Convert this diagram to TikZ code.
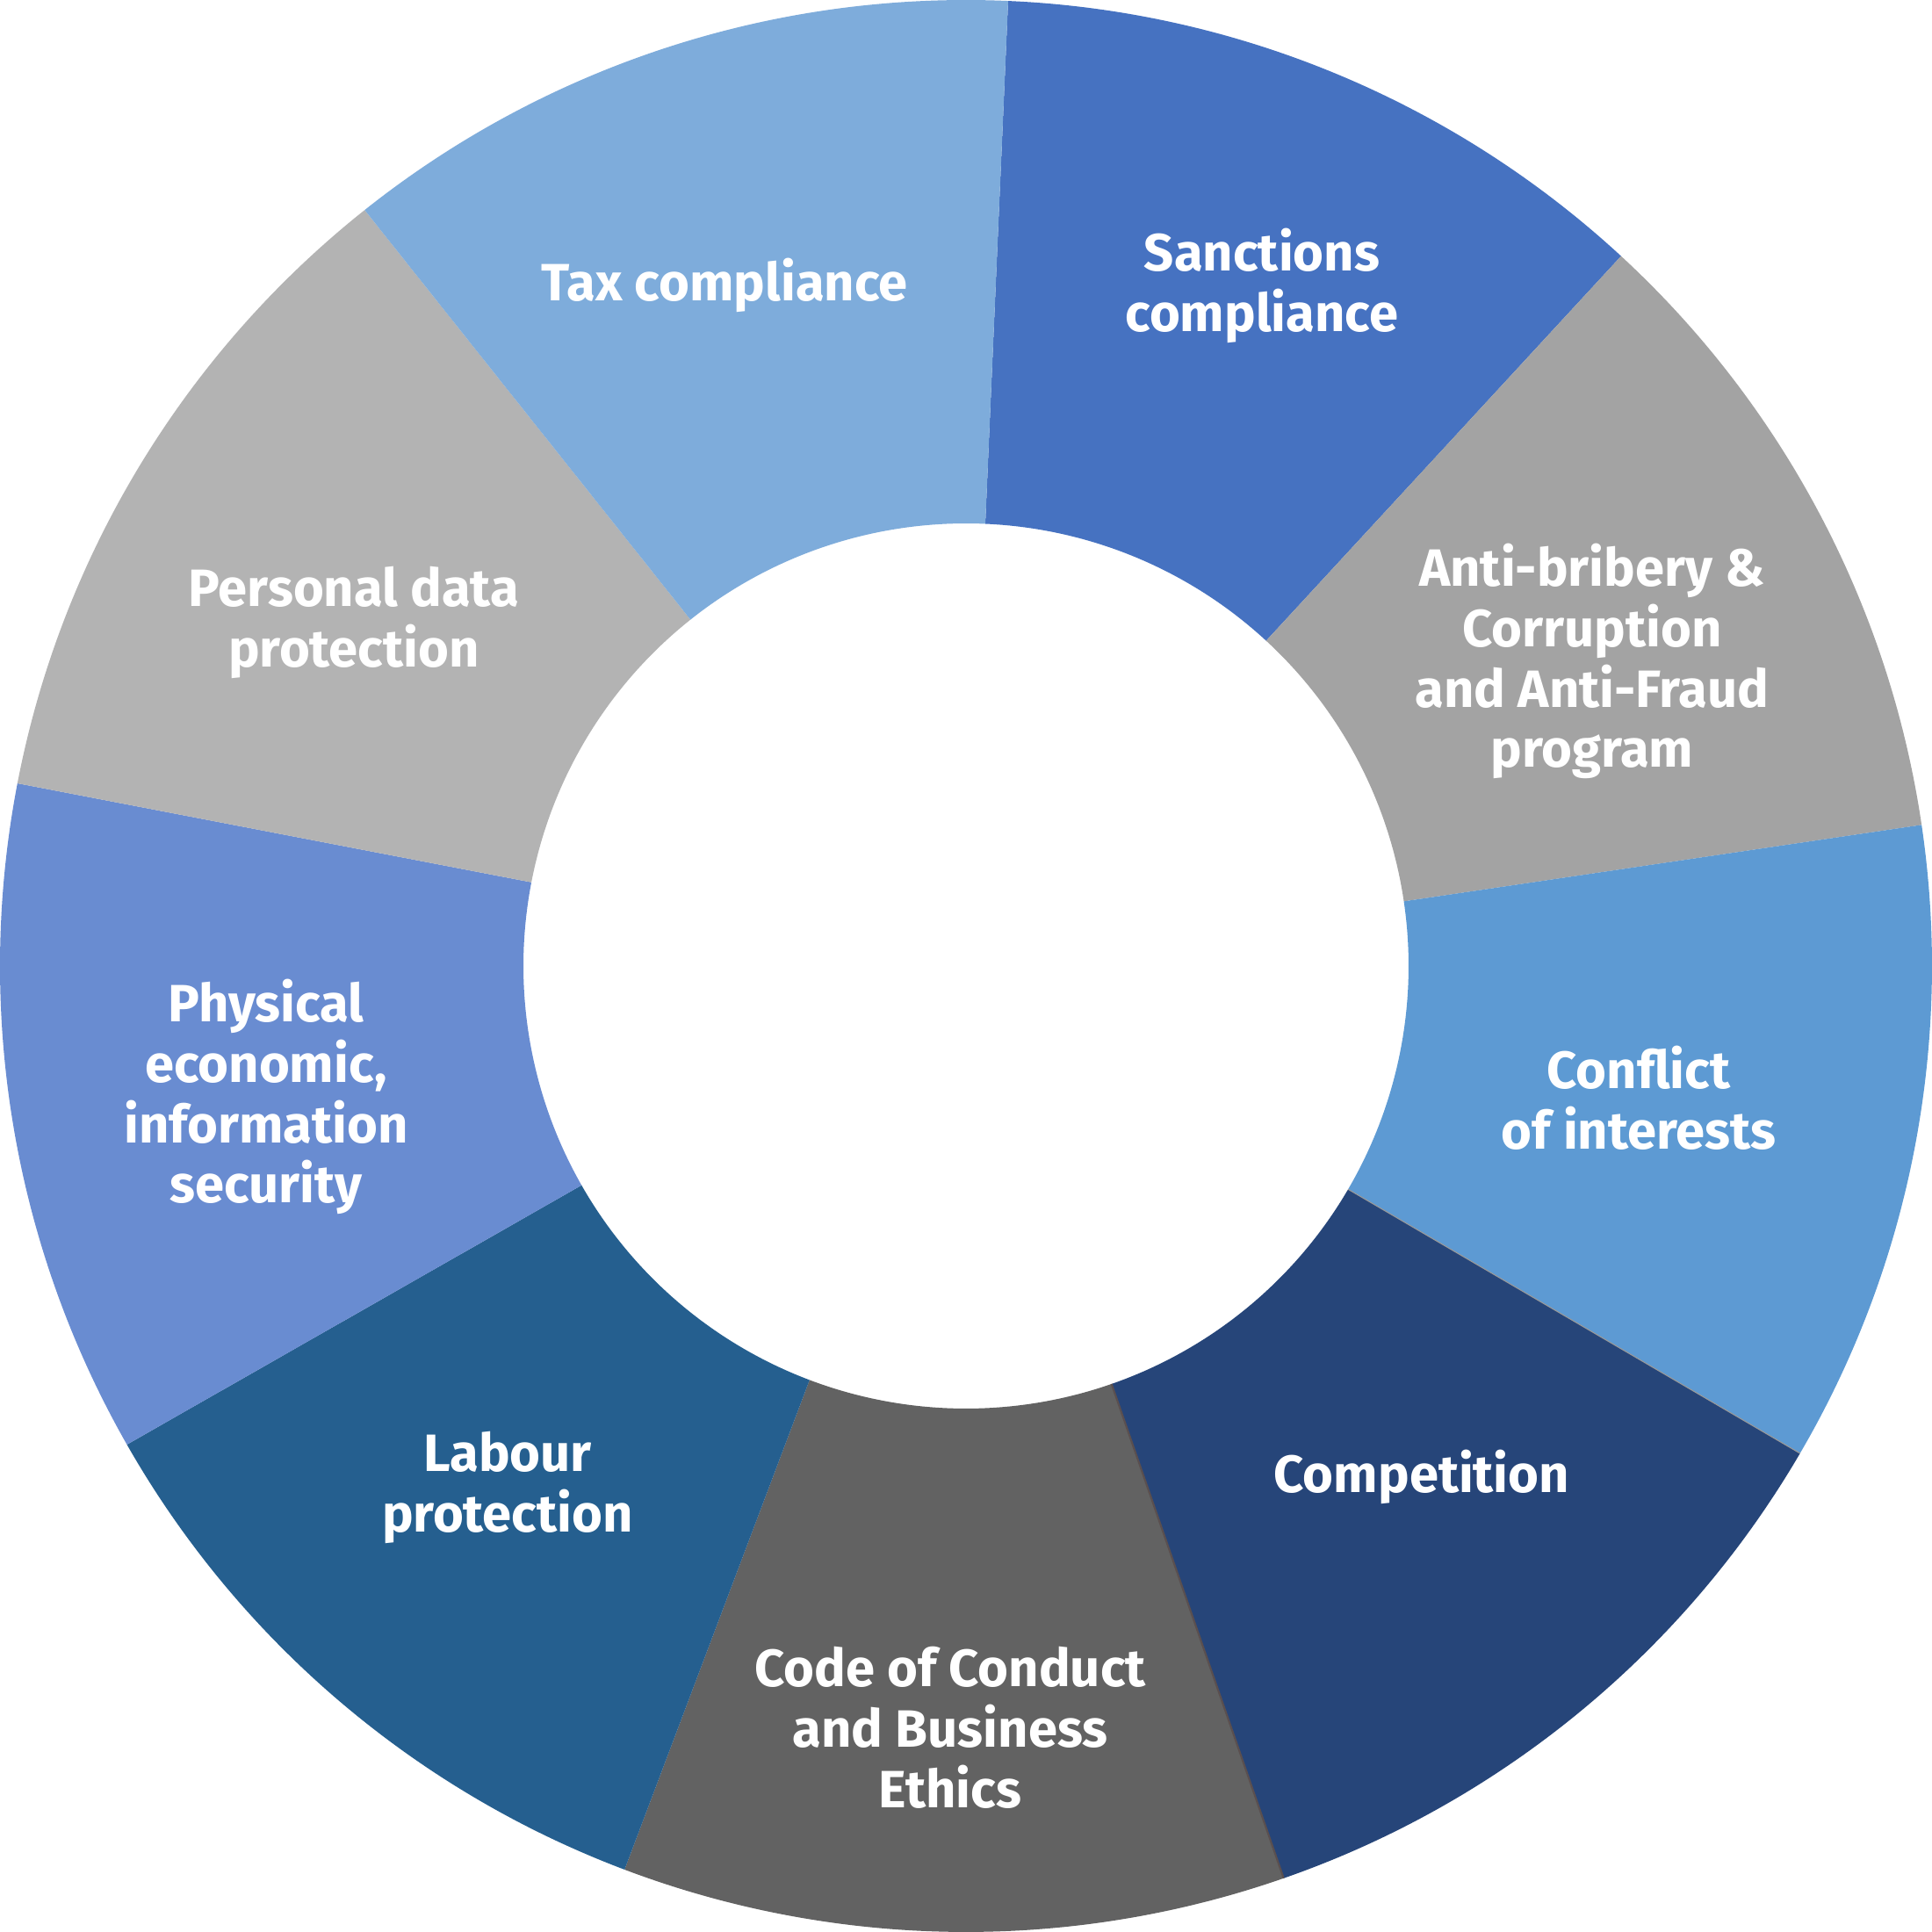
\documentclass[tikz,border=0pt]{standalone}
\usepackage{fontspec}
\setmainfont{Fira Sans}
\definecolor{cTax}{HTML}{7EACDB}
\definecolor{cSan}{HTML}{4672C1}
\definecolor{cAnti}{HTML}{A3A3A3}
\definecolor{cConf}{HTML}{5D9AD3}
\definecolor{cComp}{HTML}{264579}
\definecolor{cCode}{HTML}{626262}
\definecolor{cLab}{HTML}{255F8F}
\definecolor{cPhys}{HTML}{698CD1}
\definecolor{cPers}{HTML}{B3B3B3}
\definecolor{cEdgeA}{HTML}{5A4F4F}
\definecolor{cEdgeB}{HTML}{9A9A9A}
\newcommand{\Ro}{11}
\newcommand{\Ri}{5.04}
\newcommand{\myseg}[3]{\fill[#1] (#2:\Ri) arc[start angle=#2, end angle=#3, radius=\Ri] -- (#3:\Ro) arc[start angle=#3, end angle=#2, radius=\Ro] -- cycle;}
\tikzset{lbl/.style={text=white, align=center, font=\bfseries\fontsize{17}{19.6}\selectfont}}
\begin{document}
\begin{tikzpicture}
\useasboundingbox (-11,-11) rectangle (11,11);
\fill[white] (-11,-11) rectangle (11,11);
\myseg{cSan}{47.3}{87.5}
\myseg{cAnti}{8.4}{47.3}
\myseg{cConf}{-30.3}{8.4}
\myseg{cComp}{-70.8}{-30.3}
\myseg{cCode}{-110.7}{-70.8}
\myseg{cLab}{-150.3}{-110.7}
\myseg{cPhys}{-190.9}{-150.3}
\myseg{cPers}{-231.5}{-190.9}
\myseg{cTax}{87.5}{128.5}
\coordinate (ea1) at (-70.8:\Ri);
\coordinate (ea2) at (-70.8:\Ro);
\coordinate (eb1) at (-30.3:\Ri);
\coordinate (eb2) at (-30.3:\Ro);
\draw[cEdgeA, line width=0.6pt] (ea1) -- (ea2);
\draw[cEdgeB, line width=0.3pt] (eb1) -- (eb2);
\node[lbl] (tax) at (-2.75,7.75) {Tax compliance};
\node[lbl] (san) at (3.37,7.75) {Sanctions\\compliance};
\node[lbl] (anti) at (7.13,3.47) {Anti-bribery \&\\Corruption\\and Anti-Fraud\\program};
\node[lbl] (conf) at (7.66,-1.50) {Conflict\\of interests};
\node[lbl] (comp) at (5.19,-5.82) {Competition};
\node[lbl] (code) at (-0.18,-8.67) {Code of Conduct\\and Business\\Ethics};
\node[lbl] (lab) at (-5.22,-5.94) {Labour\\protection};
\node[lbl] (phys) at (-7.97,-1.49) {Physical\\economic,\\information\\security};
\node[lbl] (pers) at (-6.97,3.91) {Personal data\\protection};
\end{tikzpicture}
\end{document}
